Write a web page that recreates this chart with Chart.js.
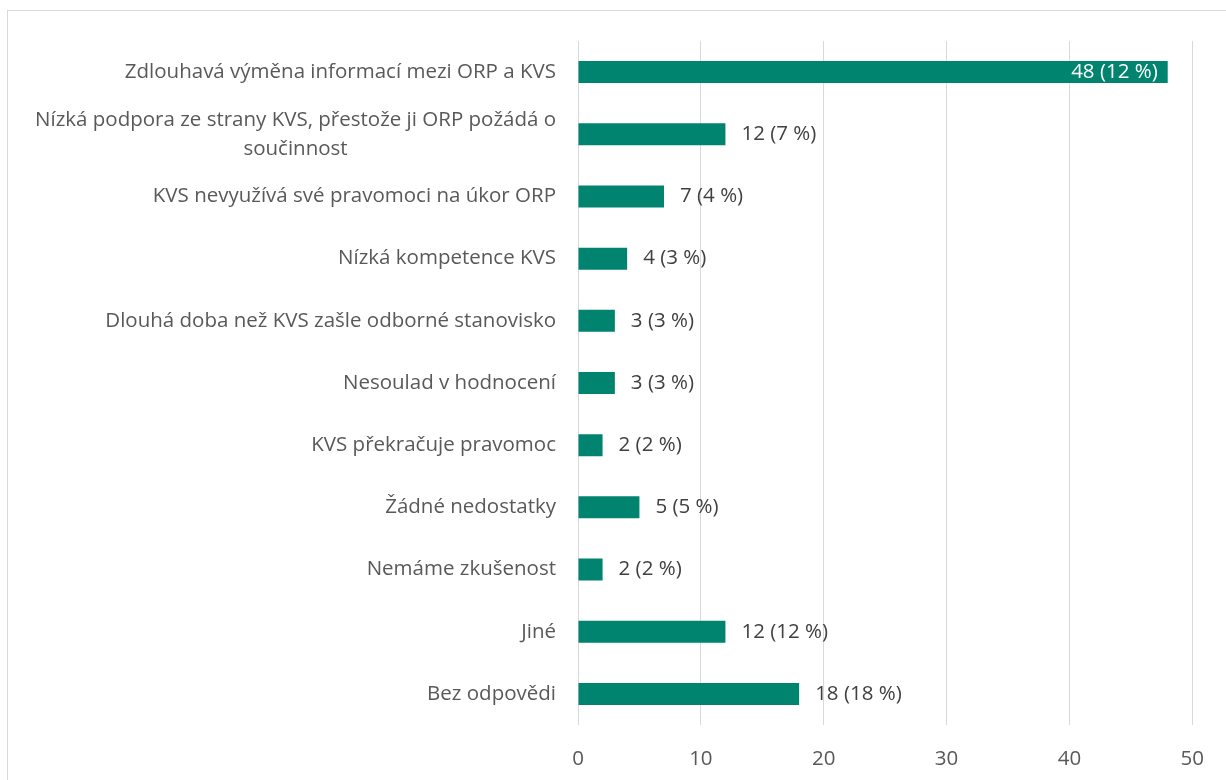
<!DOCTYPE html>
<html><head><meta charset="utf-8">
<script src="https://cdn.jsdelivr.net/npm/chart.js@4"></script>
<style>html,body{margin:0;padding:0;background:#fff;overflow:hidden}</style>
</head><body>
<canvas id="c" width="1226" height="780"></canvas>
<script>
const categories = [
  ["Zdlouhavá výměna informací mezi ORP a KVS"],
  ["Nízká podpora ze strany KVS, přestože ji ORP požádá o", "součinnost"],
  ["KVS nevyužívá své pravomoci na úkor ORP"],
  ["Nízká kompetence KVS"],
  ["Dlouhá doba než KVS zašle odborné stanovisko"],
  ["Nesoulad v hodnocení"],
  ["KVS překračuje pravomoc"],
  ["Žádné nedostatky"],
  ["Nemáme zkušenost"],
  ["Jiné"],
  ["Bez odpovědi"]
];
const counts = [48, 12, 7, 4, 3, 3, 2, 5, 2, 12, 18];
const percents = [12, 7, 4, 3, 3, 3, 2, 5, 2, 12, 18];
const xTicks = [0, 10, 20, 30, 40, 50];

const FONT_FAMILY = '"Open Sans", "DejaVu Sans", sans-serif';
const FONT_SIZE = 20.5;
const BAR_COLOR = '#00836F';

const borderPlugin = {
  id: 'outerBorder',
  beforeDraw(chart) {
    const ctx = chart.ctx;
    ctx.save();
    ctx.fillStyle = '#ffffff';
    ctx.fillRect(0, 0, chart.width, chart.height);
    ctx.strokeStyle = '#d9d9d9';
    ctx.lineWidth = 1;
    ctx.strokeRect(7.5, 10.5, chart.width + 20, chart.height + 20);
    ctx.restore();
  }
};

const catLabelPlugin = {
  id: 'catLabels',
  afterDraw(chart) {
    const ctx = chart.ctx;
    const ys = chart.scales.y;
    const right = chart.chartArea.left - 22;
    const lh = 29;
    ctx.save();
    ctx.font = FONT_SIZE + 'px ' + FONT_FAMILY;
    ctx.fillStyle = '#595959';
    ctx.textBaseline = 'middle';
    ctx.textAlign = 'center';
    categories.forEach((lines, i) => {
      const cy = ys.getPixelForValue(i);
      const maxW = Math.max(...lines.map(l => ctx.measureText(l).width));
      const cx = right - maxW / 2;
      const y0 = cy - (lines.length - 1) * lh / 2;
      lines.forEach((l, j) => ctx.fillText(l, cx, y0 + j * lh));
    });
    ctx.restore();
  }
};

const dataLabelPlugin = {
  id: 'dataLabels',
  afterDatasetsDraw(chart) {
    const ctx = chart.ctx;
    const meta = chart.getDatasetMeta(0);
    ctx.save();
    ctx.font = FONT_SIZE + 'px ' + FONT_FAMILY;
    ctx.textBaseline = 'middle';
    meta.data.forEach((bar, i) => {
      const txt = counts[i] + ' (' + percents[i] + ' %)';
      const w = ctx.measureText(txt).width;
      if (bar.x + 17 + w > chart.chartArea.right) {
        ctx.fillStyle = '#ffffff';
        ctx.textAlign = 'right';
        ctx.fillText(txt, bar.x - 10, bar.y);
      } else {
        ctx.fillStyle = '#404040';
        ctx.textAlign = 'left';
        ctx.fillText(txt, bar.x + 16, bar.y);
      }
    });
    ctx.restore();
  }
};

new Chart(document.getElementById('c'), {
  type: 'bar',
  data: {
    labels: categories,
    datasets: [{
      data: counts,
      backgroundColor: BAR_COLOR,
      borderWidth: 0,
      barPercentage: 0.354,
      categoryPercentage: 1
    }]
  },
  options: {
    indexAxis: 'y',
    responsive: false,
    animation: false,
    devicePixelRatio: 1,
    layout: { padding: { top: 41, right: 32, left: 0, bottom: 0 } },
    plugins: { legend: { display: false }, tooltip: { enabled: false } },
    scales: {
      x: {
        min: xTicks[0],
        max: xTicks[xTicks.length - 1],
        afterBuildTicks(scale) { scale.ticks = xTicks.map(v => ({ value: v })); },
        ticks: { color: '#595959', font: { family: FONT_FAMILY, size: FONT_SIZE }, padding: 22 },
        grid: { color: '#d9d9d9', lineWidth: 1, drawTicks: false },
        border: { display: false },
        afterFit(scale) { scale.height = 55; }
      },
      y: {
        ticks: { display: false },
        grid: { display: false, drawTicks: false },
        border: { display: false },
        afterFit(scale) { scale.width = 578; }
      }
    }
  },
  plugins: [borderPlugin, catLabelPlugin, dataLabelPlugin]
});
</script>
</body></html>
